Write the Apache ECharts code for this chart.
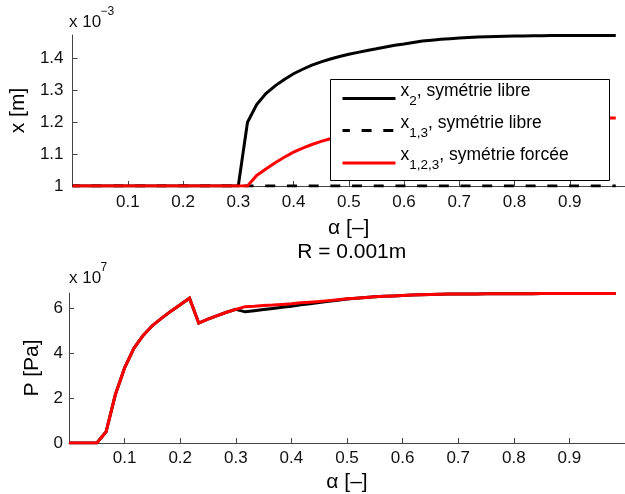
<!DOCTYPE html>
<html><head><meta charset="utf-8">
<script src="https://cdn.jsdelivr.net/npm/echarts@6/dist/echarts.min.js"></script>
<style>html,body{margin:0;padding:0;background:#fff}#c{width:625px;height:494px}</style>
</head><body><div id="c"></div>
<script>
// ---- data ----
const alpha = [0, 0.0167, 0.0333, 0.05, 0.0667, 0.0833, 0.1, 0.1167, 0.1333, 0.15,
  0.1667, 0.1833, 0.2, 0.2167, 0.2333, 0.25, 0.2667, 0.2833, 0.3,
  0.3167, 0.3333, 0.35, 0.3667, 0.3833, 0.4, 0.4167, 0.4333, 0.45, 0.4667, 0.4833,
  0.5, 0.5167, 0.5333, 0.55, 0.5667, 0.5833, 0.6, 0.6167, 0.6333, 0.65,
  0.6667, 0.6833, 0.7, 0.7167, 0.7333, 0.75, 0.7667, 0.7833, 0.8, 0.8167,
  0.8333, 0.85, 0.8667, 0.8833, 0.9, 0.9167, 0.9333, 0.95, 0.9667, 0.9833];

// top subplot: x [m] (x 1e-3)
const x2Libre = [1, 1, 1, 1, 1, 1, 1, 1, 1, 1,
  1, 1, 1, 1, 1, 1, 1, 1, 1,
  1.2, 1.255, 1.29, 1.314, 1.334, 1.352, 1.366, 1.379, 1.389, 1.398, 1.406,
  1.413, 1.419, 1.425, 1.430, 1.436, 1.441, 1.445, 1.450, 1.4545, 1.457,
  1.460, 1.462, 1.464, 1.4655, 1.467, 1.468, 1.469, 1.4695, 1.470, 1.4705,
  1.471, 1.4712, 1.4715, 1.4717, 1.472, 1.472, 1.472, 1.4722, 1.4722, 1.4722];
const x13Libre = [1, 1, 1, 1, 1, 1, 1, 1, 1, 1,
  1, 1, 1, 1, 1, 1, 1, 1, 1,
  1, 1, 1, 1, 1, 1, 1, 1, 1, 1, 1,
  1, 1, 1, 1, 1, 1, 1, 1, 1, 1,
  1, 1, 1, 1, 1, 1, 1, 1, 1, 1,
  1, 1, 1, 1, 1, 1, 1, 1, 1, 1];
const x123Forcee = [1, 1, 1, 1, 1, 1, 1, 1, 1, 1,
  1, 1, 1, 1, 1, 1, 1, 1, 1,
  1, 1.033, 1.053, 1.073, 1.090, 1.106, 1.119, 1.130, 1.140, 1.148, 1.155,
  1.162, 1.168, 1.173, 1.178, 1.182, 1.186, 1.189, 1.192, 1.195, 1.197,
  1.199, 1.201, 1.203, 1.204, 1.206, 1.207, 1.208, 1.209, 1.210, 1.2105,
  1.211, 1.2115, 1.212, 1.212, 1.2125, 1.2125, 1.213, 1.213, 1.213, 1.213];

// bottom subplot: P [Pa] (x 1e7)
const pLibre = [0, 0, 0, 0, 0.5, 2.15, 3.35, 4.22, 4.8, 5.24,
  5.57, 5.88, 6.17, 6.46, 5.35, 5.52, 5.68, 5.83, 5.96,
  5.85, 5.90, 5.95, 6.00, 6.05, 6.10, 6.16, 6.21, 6.27, 6.32, 6.37,
  6.42, 6.46, 6.49, 6.52, 6.54, 6.56, 6.58, 6.60, 6.61, 6.62,
  6.63, 6.64, 6.645, 6.65, 6.65, 6.655, 6.655, 6.66, 6.66, 6.66,
  6.66, 6.665, 6.665, 6.665, 6.665, 6.665, 6.67, 6.67, 6.67, 6.67];
const pForcee = [0, 0, 0, 0, 0.5, 2.15, 3.35, 4.22, 4.8, 5.24,
  5.57, 5.88, 6.17, 6.46, 5.35, 5.52, 5.68, 5.83, 5.96,
  6.08, 6.10, 6.13, 6.15, 6.18, 6.21, 6.25, 6.28, 6.31, 6.35, 6.39,
  6.43, 6.46, 6.49, 6.52, 6.54, 6.56, 6.58, 6.60, 6.61, 6.62,
  6.63, 6.64, 6.645, 6.65, 6.65, 6.655, 6.655, 6.66, 6.66, 6.66,
  6.66, 6.665, 6.665, 6.665, 6.665, 6.665, 6.67, 6.67, 6.67, 6.67];

const xTickValues = [0.1, 0.2, 0.3, 0.4, 0.5, 0.6, 0.7, 0.8, 0.9];
const yTopTickValues = [1, 1.1, 1.2, 1.3, 1.4];
const yBottomTickValues = [0, 2, 4, 6];

const legendNames = ['x2', 'x13', 'x123'];
const legendParts = {
  x2: ['x', '2', ', symétrie libre'],
  x13: ['x', '1,3', ', symétrie libre'],
  x123: ['x', '1,2,3', ', symétrie forcée']
};
const xLabel = 'α [–]';
const yTopLabel = 'x [m]';
const yBottomLabel = 'P [Pa]';
const subTitle = 'R = 0.001m';

// ---- chart ----
const FF = "'Liberation Sans', Arial, Helvetica, sans-serif";
const pair = arr => alpha.map((a, i) => [a, arr[i]]);
const fmt = v => String(Number(v.toFixed(2)));
const AX = '#444';

function xAxisCfg(gi, nameGap, margin) {
  return {
    type: 'value', gridIndex: gi, min: 0, max: 1,
    name: xLabel, nameLocation: 'middle', nameGap: nameGap,
    nameTextStyle: { fontSize: 21, color: '#000', fontFamily: FF },
    axisLine: { show: true, onZero: false, lineStyle: { color: AX, width: 1 } },
    axisTick: { show: true, inside: true, length: 5, customValues: xTickValues, lineStyle: { color: AX } },
    axisLabel: { show: true, customValues: xTickValues, margin: margin, fontSize: 17, color: '#111', fontFamily: FF, formatter: fmt },
    splitLine: { show: false }
  };
}
function yAxisCfg(gi, min, max, ticks, name, nameGap, margin) {
  return {
    type: 'value', gridIndex: gi, min: min, max: max,
    name: name, nameLocation: 'middle', nameGap: nameGap,
    nameTextStyle: { fontSize: 21, color: '#000', fontFamily: FF },
    axisLine: { show: true, onZero: false, lineStyle: { color: AX, width: 1 } },
    axisTick: { show: true, inside: true, length: 5, customValues: ticks, lineStyle: { color: AX } },
    axisLabel: { show: true, customValues: ticks, margin: margin, fontSize: 17, color: '#111', fontFamily: FF, formatter: fmt },
    splitLine: { show: false }
  };
}
function lineSeries(name, xi, yi, data, color, type) {
  return {
    type: 'line', name: name, xAxisIndex: xi, yAxisIndex: yi, data: pair(data),
    symbol: 'none', showSymbol: false,
    lineStyle: { color: color, width: 3, type: type, dashOffset: 2.6, cap: 'butt', join: 'miter' },
    itemStyle: { color: color },
    emphasis: { disabled: true }
  };
}
const legendRowTop = [82, 114, 146.5];
function legendCfg(k) {
  return {
    data: [legendNames[k]], orient: 'horizontal', left: 341, top: legendRowTop[k],
    padding: 0, itemGap: 0, itemWidth: 53, itemHeight: 14, z: 20,
    selectedMode: false,
    lineStyle: { width: 3 },
    itemStyle: { opacity: 0, borderWidth: 0 },
    formatter: n => '{a|' + legendParts[n][0] + '}{s|' + legendParts[n][1] + '}{a|' + legendParts[n][2] + '}',
    textStyle: {
      fontFamily: FF, fontSize: 17.5, color: '#000',
      rich: {
        a: { fontFamily: FF, fontSize: 17.5, color: '#000', lineHeight: 20, verticalAlign: 'top' },
        s: { fontFamily: FF, fontSize: 13.5, color: '#000', padding: [12, 0, 7, 0], verticalAlign: 'top' }
      }
    }
  };
}

const chart = echarts.init(document.getElementById('c'), null, { renderer: 'canvas' });
chart.setOption({
  animation: false,
  backgroundColor: '#fff',
  grid: [
    { left: 69, top: 35, width: 565.5, height: 151 },
    { left: 69, top: 293, width: 565.5, height: 151 }
  ],
  xAxis: [xAxisCfg(0, 32, 8), xAxisCfg(1, 29, 7)],
  yAxis: [
    yAxisCfg(0, 1, 1.4734, yTopTickValues, yTopLabel, 35, 9),
    yAxisCfg(1, 0, 6.69, yBottomTickValues, yBottomLabel, 22, 6)
  ],
  legend: [legendCfg(0), legendCfg(1), legendCfg(2)],
  graphic: [
    { type: 'rect', z: 10, shape: { x: 330.5, y: 79.5, width: 279, height: 101 }, style: { fill: '#fff', stroke: '#000', lineWidth: 1 } },
    { type: 'text', x: 69, y: 22, style: { text: 'x 10', fontFamily: FF, fontSize: 17, fill: '#111', verticalAlign: 'middle', align: 'left' } },
    { type: 'text', x: 100.5, y: 11.5, style: { text: '−3', fontFamily: FF, fontSize: 12, fill: '#111', verticalAlign: 'middle', align: 'left' } },
    { type: 'text', x: 69, y: 278, style: { text: 'x 10', fontFamily: FF, fontSize: 17, fill: '#111', verticalAlign: 'middle', align: 'left' } },
    { type: 'text', x: 100.5, y: 267.5, style: { text: '7', fontFamily: FF, fontSize: 12, fill: '#111', verticalAlign: 'middle', align: 'left' } },
    { type: 'text', x: 351.7, y: 252, style: { text: subTitle, fontFamily: FF, fontSize: 21, fill: '#000', verticalAlign: 'middle', align: 'center' } }
  ],
  series: [
    lineSeries('x2', 0, 0, x2Libre, '#000', 'solid'),
    lineSeries('x13', 0, 0, x13Libre, '#000', [10, 11.7]),
    lineSeries('x123', 0, 0, x123Forcee, '#ff0000', 'solid'),
    lineSeries('P libre', 1, 1, pLibre, '#000', 'solid'),
    lineSeries('P forcee', 1, 1, pForcee, '#ff0000', 'solid')
  ]
});
</script>
</body></html>
